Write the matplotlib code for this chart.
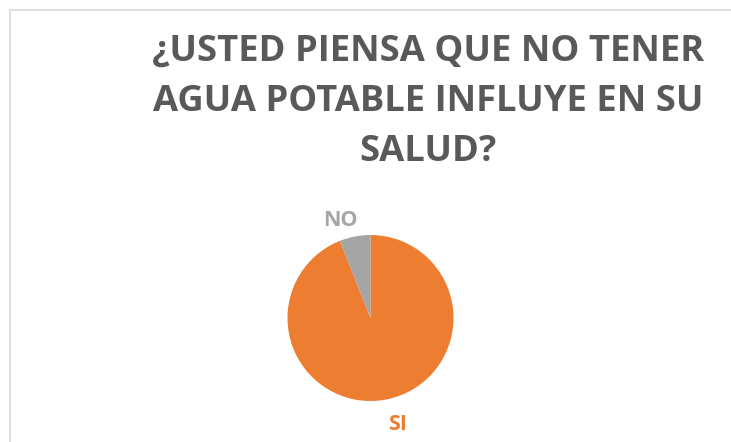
"""Pie chart: ¿Usted piensa que no tener agua potable influye en su salud?"""

import matplotlib.pyplot as plt
from matplotlib.patches import Rectangle

# Data
categories = ["SI", "NO"]
values = [94, 6]
colors = ["#ED7D31", "#A5A5A5"]
title_lines = ["¿USTED PIENSA QUE NO TENER", "AGUA POTABLE INFLUYE EN SU", "SALUD?"]

W, H = 731, 442
fig = plt.figure(figsize=(W / 100, H / 100), dpi=100)
plt.rcParams['font.family'] = ['Open Sans', 'DejaVu Sans']

# Light chart border
fig.patches.append(Rectangle((10 / W, -0.05), 1.1, (H - 10) / H + 0.05,
                             transform=fig.transFigure, fill=False,
                             edgecolor="#D9D9D9", linewidth=1.2))

# Title
for i, line in enumerate(title_lines):
    fig.text(428 / W, 1 - (52 + 50 * i) / H, line, ha="center", va="center",
             fontsize=26.2, fontweight="bold", color="#595959")

# Pie
cx, cy, r = 370.5, 318, 83
ax = fig.add_axes([(cx - r) / W, (H - cy - r) / H, 2 * r / W, 2 * r / H])
ax.pie(values, colors=colors, startangle=90, counterclock=False,
       radius=1, wedgeprops=dict(linewidth=0))
ax.set_xlim(-1, 1)
ax.set_ylim(-1, 1)
ax.set_aspect("equal")
ax.axis("off")

# Labels
fig.text(340 / W, 1 - 220 / H, categories[1], ha="center", va="center",
         fontsize=15.5, fontweight="bold", color=colors[1])
fig.text(398 / W, 1 - 424 / H, categories[0], ha="center", va="center",
         fontsize=15.5, fontweight="bold", color=colors[0])

fig.savefig("out.png", dpi=100)
